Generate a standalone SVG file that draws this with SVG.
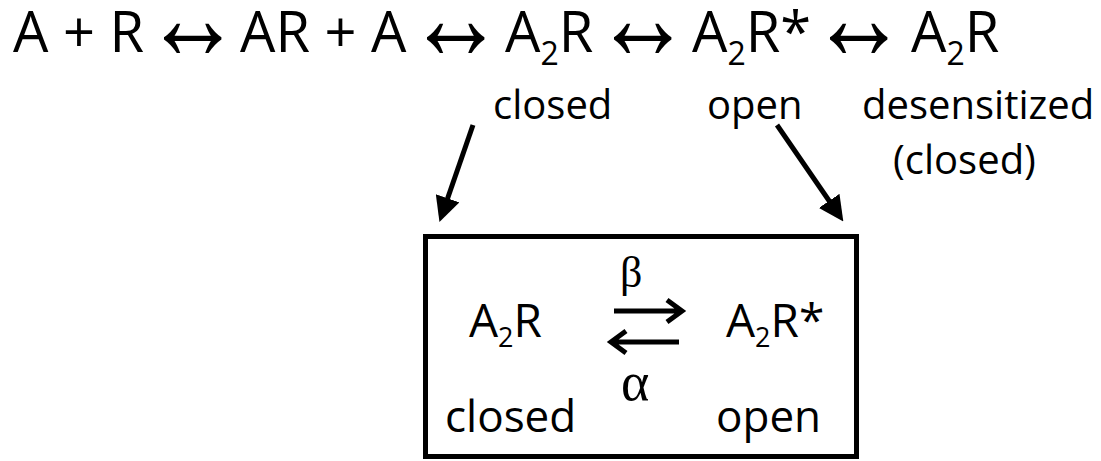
<svg xmlns="http://www.w3.org/2000/svg" width="1101" height="461" viewBox="0 0 1101 461">
  <style>
    .t { font-family: "Open Sans", "Liberation Sans", sans-serif; fill: #000; }
    .top { font-size: 56px; }
    .sub { font-size: 32px; }
    .arr { font-family: "Liberation Sans", "DejaVu Sans", sans-serif; font-size: 125px; fill: #000; }
    .lbl { font-size: 40px; }
    .gr { font-family: "Liberation Serif", "DejaVu Serif", serif; fill: #000; }
    .ln { stroke: #000; stroke-width: 5; fill: none; }
  </style>
  <defs>
    <marker id="head" markerWidth="5" markerHeight="5" refX="1" refY="2.5" orient="auto" markerUnits="strokeWidth">
      <path d="M0,0 L5,2.5 L0,5 Z" fill="#000"/>
    </marker>
  </defs>
  <rect width="1101" height="461" fill="#fff"/>

  <!-- reaction scheme: species and reversible steps -->
  <g id="scheme">
    <text class="t top" x="13" y="52">A + R</text>
    <text class="arr" x="144" y="59" textLength="97" lengthAdjust="spacingAndGlyphs">↔</text>
    <text class="t top" x="240" y="52">AR + A</text>
    <text class="arr" x="407" y="59" textLength="97" lengthAdjust="spacingAndGlyphs">↔</text>
    <text class="t top" x="505" y="52">A<tspan class="sub" dy="13">2</tspan><tspan dy="-13">R</tspan></text>
    <text class="arr" x="594" y="59" textLength="97" lengthAdjust="spacingAndGlyphs">↔</text>
    <text class="t top" x="692" y="52">A<tspan class="sub" dy="13">2</tspan><tspan dy="-13">R*</tspan></text>
    <text class="arr" x="810" y="59" textLength="97" lengthAdjust="spacingAndGlyphs">↔</text>
    <text class="t top" x="911" y="52">A<tspan class="sub" dy="13">2</tspan><tspan dy="-13">R</tspan></text>
  </g>

  <!-- state labels -->
  <g id="label-closed"><text class="t lbl" x="493" y="119">closed</text></g>
  <g id="label-open"><text class="t lbl" x="707" y="119">open</text></g>
  <g id="label-desensitized">
    <text class="t lbl" x="862" y="119">desensitized</text>
    <text class="t lbl" x="893" y="174">(closed)</text>
  </g>

  <!-- pointers into the kinetic box -->
  <g id="connectors">
    <line class="ln" x1="473" y1="125" x2="446" y2="203" marker-end="url(#head)"/>
    <line class="ln" x1="777" y1="125" x2="832" y2="205" marker-end="url(#head)"/>
  </g>

  <!-- two-state gating box -->
  <g id="gating-box">
    <rect class="ln" x="425.5" y="236.5" width="431" height="220"/>
    <text class="t" x="469" y="337" font-size="46">A<tspan font-size="27" dy="10">2</tspan><tspan dy="-10">R</tspan></text>
    <text class="t" x="726" y="337" font-size="46">A<tspan font-size="27" dy="10">2</tspan><tspan dy="-10">R*</tspan></text>
    <text class="gr" x="620" y="287" font-size="44">β</text>
    <path class="ln" d="M614,311 H681 M667,300 L682,311 L667,322"/>
    <path class="ln" d="M679,342 H613 M626,331 L611,342 L626,353"/>
    <text class="gr" x="621" y="400" font-size="54">α</text>
    <text class="t" x="445" y="432" font-size="44">closed</text>
    <text class="t" x="716" y="432" font-size="44">open</text>
  </g>
</svg>
